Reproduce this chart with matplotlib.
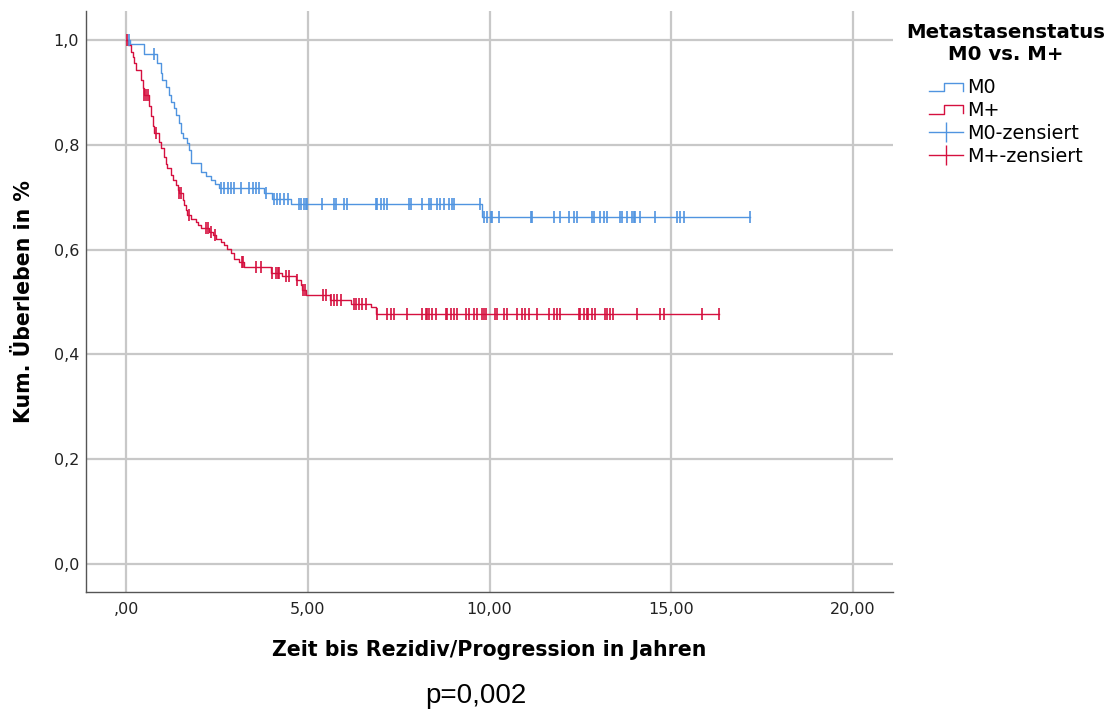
import numpy as np
import matplotlib
matplotlib.use("Agg")
import matplotlib.pyplot as plt
from matplotlib.lines import Line2D
from matplotlib.legend_handler import HandlerBase

# --- Daten ---
# M0: Ereigniszeitpunkte (Jahre) und kumulatives Überleben nach dem Ereignis
m0_event_t = [0.10, 0.50, 0.85, 0.95, 1.00, 1.10, 1.17, 1.24, 1.31, 1.37,
              1.45, 1.51, 1.58, 1.68, 1.74, 1.79, 2.06, 2.20, 2.34, 2.45,
              2.56, 3.80, 4.03, 4.53, 9.78]
m0_event_s = [0.992, 0.973, 0.955, 0.936, 0.924, 0.911, 0.895, 0.882, 0.870, 0.857,
              0.841, 0.822, 0.812, 0.804, 0.790, 0.765, 0.748, 0.740, 0.732, 0.725,
              0.717, 0.707, 0.697, 0.686, 0.663]
m0_censored = [0.08, 0.78, 2.61, 2.69, 2.80, 2.88, 2.97, 3.16, 3.38, 3.49,
               3.57, 3.65, 3.86, 4.07, 4.15, 4.25, 4.35, 4.45, 4.76, 4.81,
               4.90, 4.95, 4.99, 5.40, 5.72, 5.77, 6.00, 6.09, 6.87, 6.91,
               7.01, 7.10, 7.19, 7.78, 7.83, 8.15, 8.33, 8.38, 8.56, 8.65,
               8.74, 8.88, 8.97, 9.02, 9.75, 9.84, 9.93, 10.03, 10.07, 10.25,
               11.13, 11.17, 11.77, 11.95, 12.18, 12.32, 12.41, 12.82, 12.87, 13.05,
               13.14, 13.23, 13.60, 13.65, 13.78, 13.92, 13.97, 14.01, 14.15, 14.56,
               15.16, 15.25, 15.34, 17.17]

# M+
mp_event_t = [0.05, 0.14, 0.18, 0.23, 0.27, 0.41, 0.46, 0.49, 0.64, 0.69,
              0.73, 0.78, 0.90, 0.96, 1.05, 1.10, 1.14, 1.24, 1.28, 1.37,
              1.42, 1.46, 1.56, 1.60, 1.65, 1.69, 1.78, 1.92, 1.97, 2.06,
              2.29, 2.38, 2.47, 2.61, 2.70, 2.79, 2.88, 2.98, 3.11, 3.25,
              3.98, 4.30, 4.67, 4.81, 4.85, 4.95, 5.60, 6.18, 6.73, 6.87]
mp_event_s = [0.990, 0.977, 0.968, 0.955, 0.943, 0.924, 0.908, 0.895, 0.873, 0.854,
              0.835, 0.822, 0.806, 0.794, 0.777, 0.764, 0.755, 0.742, 0.733, 0.723,
              0.714, 0.707, 0.695, 0.685, 0.676, 0.666, 0.658, 0.652, 0.646, 0.641,
              0.634, 0.628, 0.621, 0.614, 0.608, 0.602, 0.594, 0.582, 0.577, 0.567,
              0.556, 0.549, 0.542, 0.532, 0.523, 0.513, 0.504, 0.497, 0.490, 0.478]
mp_censored = [0.02, 0.50, 0.55, 0.60, 0.82, 1.47, 1.50, 1.74, 2.20, 2.25,
               2.35, 2.45, 3.18, 3.22, 3.57, 3.71, 4.03, 4.12, 4.17, 4.21,
               4.40, 4.49, 4.70, 4.88, 4.93, 5.41, 5.50, 5.63, 5.72, 5.81,
               5.91, 6.27, 6.32, 6.41, 6.50, 6.59, 6.91, 7.19, 7.28, 7.37,
               7.74, 8.15, 8.24, 8.29, 8.33, 8.42, 8.52, 8.79, 8.83, 8.93,
               9.02, 9.11, 9.34, 9.43, 9.57, 9.66, 9.80, 9.84, 9.89, 10.16,
               10.21, 10.39, 10.49, 10.76, 10.90, 10.99, 11.08, 11.31, 11.63, 11.77,
               11.86, 11.95, 12.45, 12.50, 12.59, 12.68, 12.72, 12.82, 12.91, 13.19,
               13.23, 13.32, 13.41, 14.06, 14.70, 14.79, 15.84, 16.30]

x_ticks = [0, 5, 10, 15, 20]
x_ticklabels = [",00", "5,00", "10,00", "15,00", "20,00"]
y_ticks = [0.0, 0.2, 0.4, 0.6, 0.8, 1.0]
y_ticklabels = ["0,0", "0,2", "0,4", "0,6", "0,8", "1,0"]

COL_M0 = "#5094e0"
COL_MP = "#d5103f"


def km_curve(ev_t, ev_s, cens):
    """Stufenfunktion + Höhe der Zensierungsmarken."""
    t_end = max(max(cens), max(ev_t))
    t = np.concatenate([[0.0], ev_t, [t_end]])
    s = np.concatenate([[1.0], ev_s, [ev_s[-1]]])
    idx = np.searchsorted(ev_t, cens, side="right")
    s_c = np.concatenate([[1.0], ev_s])[idx]
    return t, s, s_c


class HandlerStep(HandlerBase):
    # kleines Stufen-Symbol wie in SPSS
    def create_artists(self, legend, orig_handle, xdescent, ydescent,
                       width, height, fontsize, trans):
        x0, y0 = -xdescent, -ydescent
        xs = [x0, x0 + 0.45 * width, x0 + 0.45 * width, x0 + width, x0 + width]
        ys = [y0 + 0.15 * height, y0 + 0.15 * height, y0 + 0.8 * height,
              y0 + 0.8 * height, y0 + 0.2 * height]
        ln = Line2D(xs, ys, color=orig_handle.get_color(), lw=1.0, transform=trans)
        return [ln]


fig = plt.figure(figsize=(11.18, 7.17), dpi=100)
ax = fig.add_axes([86 / 1118, 1 - 592 / 717, (893 - 86) / 1118, (592 - 11) / 717])

for ev_t, ev_s, cens, col in [(m0_event_t, m0_event_s, m0_censored, COL_M0),
                              (mp_event_t, mp_event_s, mp_censored, COL_MP)]:
    t, s, s_c = km_curve(ev_t, ev_s, cens)
    ax.step(t, s, where="post", color=col, lw=1.0, zorder=3)
    ax.plot(cens, s_c, ls="none", marker="|", ms=8, mew=1.2, color=col, zorder=4)

ax.set_xlim(-1.1, 21.1)
ax.set_ylim(-0.053, 1.055)
ax.set_xticks(x_ticks)
ax.set_xticklabels(x_ticklabels)
ax.set_yticks(y_ticks)
ax.set_yticklabels(y_ticklabels)
ax.tick_params(length=0, labelsize=11.5, colors="#222222")
ax.tick_params(axis="x", pad=7)
ax.tick_params(axis="y", pad=5)
ax.grid(True, color="#c8c8c8", lw=1.6, zorder=0)
ax.set_axisbelow(True)
for side in ["top", "right"]:
    ax.spines[side].set_visible(False)
for side in ["left", "bottom"]:
    ax.spines[side].set_color("#555555")
    ax.spines[side].set_linewidth(1.0)

ax.set_xlabel("Zeit bis Rezidiv/Progression in Jahren", fontsize=14.8,
              fontweight="bold", labelpad=17)
ax.set_ylabel("Kum. Überleben in %", fontsize=14.8, fontweight="bold", labelpad=14)

# Legende
h_m0 = Line2D([], [], color=COL_M0)
h_mp = Line2D([], [], color=COL_MP)
h_m0c = Line2D([], [], color=COL_M0, lw=1.0, marker="|", ms=14, mew=1.0)
h_mpc = Line2D([], [], color=COL_MP, lw=1.0, marker="|", ms=14, mew=1.0)
leg = fig.legend([h_m0, h_mp, h_m0c, h_mpc],
                 ["M0", "M+", "M0-zensiert", "M+-zensiert"],
                 handler_map={h_m0: HandlerStep(), h_mp: HandlerStep()},
                 loc="upper center", bbox_to_anchor=(1006 / 1118, 1 - 10 / 717),
                 frameon=False, fontsize=13.8, title="Metastasenstatus\nM0 vs. M+",
                 title_fontproperties={"weight": "bold", "size": 14.2},
                 handlelength=1.8, handletextpad=0.2, labelspacing=0.2,
                 numpoints=1, borderpad=0.2)
leg.get_title().set_multialignment("center")
leg._legend_box.sep = 10  # etwas mehr Abstand unter dem Titel

fig.text(476 / 1118, 1 - 696 / 717, "p=0,002", ha="center", va="center",
         fontsize=20, family="Liberation Sans")

fig.savefig("out.png", dpi=100)
